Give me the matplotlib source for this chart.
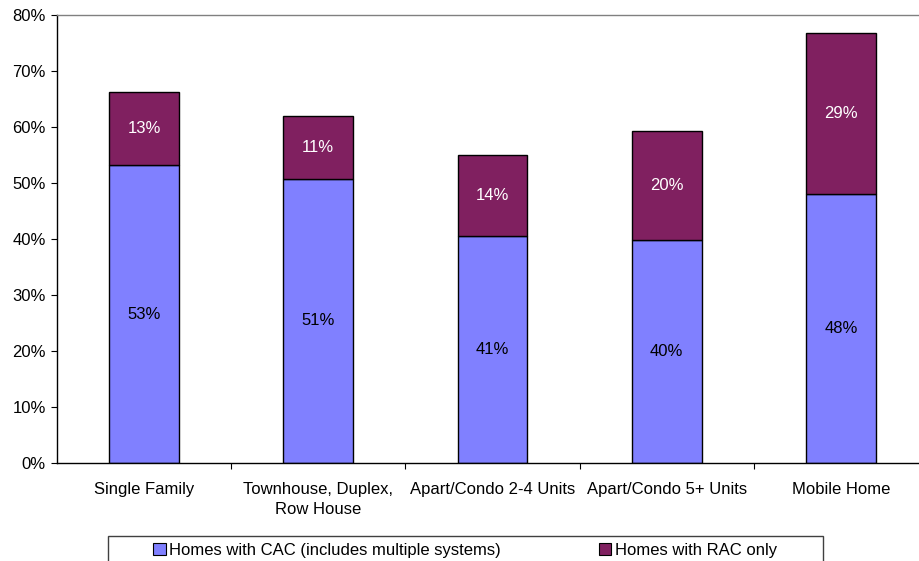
import matplotlib
matplotlib.use("Agg")
import matplotlib.pyplot as plt
import numpy as np
from matplotlib.patches import Patch, Rectangle

plt.rcParams['font.family'] = ['Liberation Sans', 'DejaVu Sans']

categories = ["Single Family", "Townhouse, Duplex,\nRow House", "Apart/Condo 2-4 Units",
              "Apart/Condo 5+ Units", "Mobile Home"]
cac = [53.2, 50.8, 40.6, 39.8, 48.1]
rac = [13.1, 11.1, 14.4, 19.5, 28.6]
series_names = ["Homes with CAC (includes multiple systems)", "Homes with RAC only"]
yticks = [0, 10, 20, 30, 40, 50, 60, 70, 80]

blue = "#8080FF"
purple = "#802060"
fs = 12

fig = plt.figure(figsize=(9.2, 5.61), dpi=100)
ax = fig.add_axes([57 / 920, 1 - 463 / 561, 871 / 920, 448 / 561])

x = np.arange(len(categories))
w = 0.40
ax.bar(x, cac, w, color=blue, edgecolor="black", linewidth=1.0)
ax.bar(x, rac, w, bottom=cac, color=purple, edgecolor="black", linewidth=1.0)

for xi, c, r in zip(x, cac, rac):
    ax.text(xi, c / 2, f"{c:.0f}%", ha="center", va="center", fontsize=fs, color="black")
    ax.text(xi, c + r / 2, f"{r:.0f}%", ha="center", va="center", fontsize=fs, color="white")

ax.set_xlim(-0.5, len(categories) - 0.5)
ax.set_ylim(0, 80)
ax.set_yticks(yticks)
ax.set_yticklabels([f"{t}%" for t in yticks], fontsize=fs)
ax.tick_params(axis="y", length=4, width=0.8, pad=4)

ax.set_xticks(x)
ax.set_xticklabels(categories, fontsize=fs, linespacing=1.4)
ax.tick_params(axis="x", which="major", length=0, pad=13.5)
ax.set_xticks(np.arange(0.5, len(categories) - 0.5, 1.0), minor=True)
ax.tick_params(axis="x", which="minor", length=4, width=0.8)

for s in ["left", "bottom"]:
    ax.spines[s].set_color("black")
    ax.spines[s].set_linewidth(1.0)
for s in ["top", "right"]:
    ax.spines[s].set_color("#808080")
    ax.spines[s].set_linewidth(1.0)

# legend box (runs off the bottom edge of the figure)
fig.patches.append(Rectangle((108 / 920, -0.02), (823 - 108) / 920, 0.02 + 25 / 561,
                             transform=fig.transFigure, facecolor="white",
                             edgecolor="#404040", linewidth=1.0))

handles = [Patch(facecolor=blue, edgecolor="black", linewidth=0.8),
           Patch(facecolor=purple, edgecolor="black", linewidth=0.8)]
leg = fig.legend(handles, series_names, loc="center left",
                 bbox_to_anchor=(153 / 920, 1 - 550 / 561), ncol=2,
                 fontsize=fs, frameon=False, handlelength=0.75, handleheight=0.75,
                 handletextpad=0.2, columnspacing=5.9, borderpad=0,
                 borderaxespad=0)

fig.savefig("out.png", dpi=100)
